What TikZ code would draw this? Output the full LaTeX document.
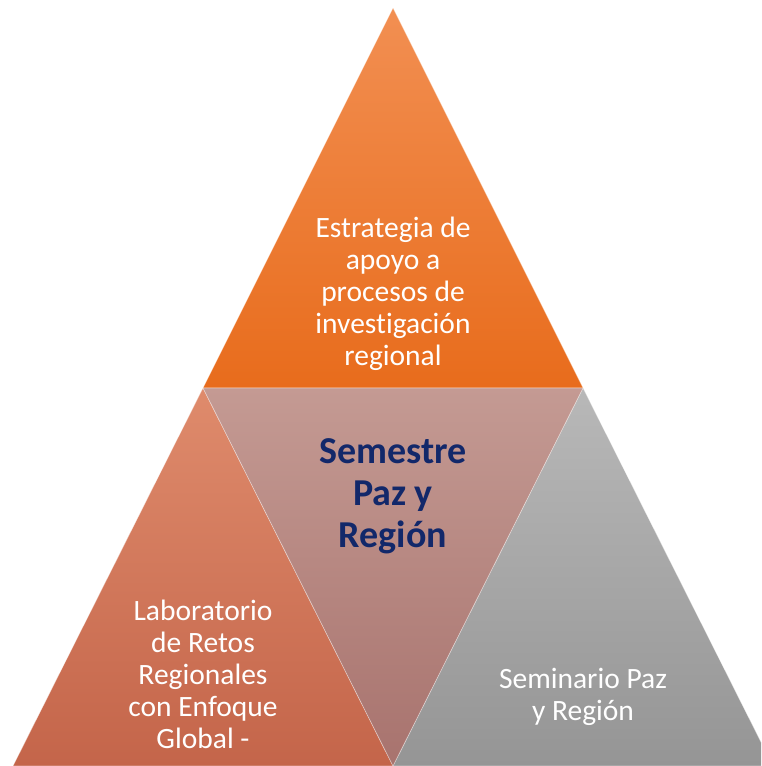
\documentclass[tikz,border=0pt]{standalone}
\usepackage{fontspec}
\setmainfont{Carlito}[Ligatures=NoCommon]
\definecolor{orangeTop}{HTML}{F28F52}
\definecolor{orangeBot}{HTML}{E86C1C}
\definecolor{rustTop}{HTML}{DF8B6C}
\definecolor{rustBot}{HTML}{C4654A}
\definecolor{roseTop}{HTML}{C49A93}
\definecolor{roseBot}{HTML}{A8736E}
\definecolor{greyTop}{HTML}{B8B8B8}
\definecolor{greyBot}{HTML}{959595}
\definecolor{navy}{HTML}{12286A}
\tikzset{
  edge/.style={draw=white, draw opacity=.45, line width=.6pt},
  label/.style={text=white, align=center, font=\fontsize{29.5}{32}\selectfont},
  title/.style={text=navy, align=center, font=\bfseries\fontsize{38}{42}\selectfont}
}
\begin{document}
\begin{tikzpicture}[x=1pt,y=-1pt]
\useasboundingbox (0,0) rectangle (761,766);
\clip (0,0) rectangle (761,766);
\def\toptri{(393,8) -- (203,388) -- (583,388) -- cycle}
\def\lefttri{(203,388) -- (13,766) -- (393,766) -- cycle}
\def\righttri{(583,388) -- (393,766) -- (773,766) -- cycle}
\def\midtri{(203,388) -- (583,388) -- (393,766) -- cycle}
\shade[top color=orangeTop, bottom color=orangeBot, edge] \toptri;
\shade[top color=rustTop, bottom color=rustBot, edge] \lefttri;
\shade[top color=greyTop, bottom color=greyBot, edge] \righttri;
\shade[top color=roseTop, bottom color=roseBot, edge] \midtri;
\node[label] (top) at (393,294) {Estrategia de\\apoyo a\\procesos de\\investigación\\regional};
\node[title] (mid) at (393,496) {Semestre\\Paz y\\Región};
\node[label] (left) at (203,674) {Laboratorio\\de Retos\\Regionales\\con Enfoque\\Global -};
\node[label] (right) at (583,697) {Seminario Paz\\y Región};
\end{tikzpicture}
\end{document}
